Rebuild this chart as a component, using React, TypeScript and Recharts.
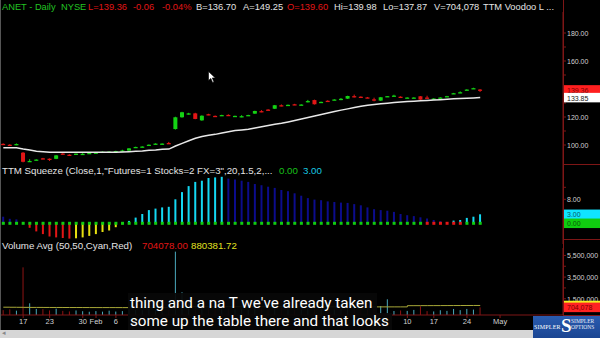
import React from "react";
import { ComposedChart, Bar, Line, XAxis, YAxis } from "recharts";

const W = 600;
const AXIS_W = 37;
const SLOTS = 85; // 73 sessions + empty space to the right

// ANET daily, Jan 11 - Apr 26 2017
const open = [100.8, 100.2, 100.2, 94.5, 88.2, 89.2, 90.5, 90.2, 90.1, 93.9, 93.1, 93.3, 93.5, 94.0, 94.3, 94.8, 95.0, 95.3, 95.9, 96.0, 98.2, 98.6, 99.9, 100.7, 100.8, 101.4, 111.4, 119.8, 122.2, 122.6, 117.6, 122.0, 120.8, 121.0, 121.5, 120.6, 120.4, 121.0, 122.4, 124.2, 125.3, 125.9, 128.4, 128.4, 129.1, 128.6, 131.0, 132.1, 130.5, 131.6, 132.2, 132.8, 133.1, 134.9, 134.5, 134.0, 132.6, 131.7, 134.6, 135.1, 134.5, 133.7, 133.7, 134.8, 133.9, 133.0, 133.7, 134.7, 136.7, 137.4, 139.3, 140.4, 139.6];
const high = [101.2, 100.6, 101.1, 95.0, 89.9, 89.8, 90.8, 90.4, 92.8, 94.2, 93.4, 93.9, 94.2, 94.6, 94.9, 95.4, 95.5, 95.9, 96.6, 97.8, 98.8, 99.1, 100.4, 101.2, 101.2, 102.2, 120.2, 123.7, 123.0, 123.0, 121.2, 122.3, 121.1, 121.6, 121.9, 121.0, 121.3, 121.6, 124.5, 124.9, 125.6, 128.6, 129.0, 128.9, 129.4, 129.1, 132.2, 132.4, 131.0, 131.9, 132.7, 133.6, 135.2, 136.0, 134.8, 134.3, 133.8, 134.3, 135.0, 135.9, 134.8, 134.1, 134.1, 135.0, 135.2, 133.4, 134.1, 135.1, 137.2, 138.3, 139.8, 140.9, 139.98];
const low = [100.2, 99.5, 99.9, 87.6, 88.0, 89.0, 89.8, 88.6, 89.9, 93.2, 92.2, 93.1, 93.0, 93.6, 94.0, 94.6, 94.7, 95.1, 95.2, 95.8, 97.9, 98.3, 99.6, 100.5, 100.5, 100.7, 111.0, 119.5, 121.7, 118.4, 117.3, 121.3, 120.1, 120.8, 120.7, 120.4, 119.8, 120.8, 122.2, 123.4, 124.6, 125.7, 127.6, 128.2, 128.5, 128.4, 130.4, 128.9, 130.3, 131.0, 132.0, 132.0, 132.9, 134.0, 133.9, 133.5, 131.2, 131.5, 134.4, 134.6, 134.0, 133.5, 133.5, 132.2, 133.0, 132.8, 133.5, 134.5, 136.5, 137.0, 139.1, 140.2, 137.87];
const close = [100.4, 99.8, 100.7, 88.0, 88.6, 89.6, 90.0, 89.9, 92.6, 93.4, 92.8, 93.8, 93.7, 94.3, 94.6, 95.2, 95.3, 95.7, 96.1, 97.6, 98.6, 98.9, 100.2, 101.0, 101.0, 101.0, 119.8, 123.4, 122.6, 118.6, 120.9, 121.5, 120.3, 121.4, 121.0, 120.8, 120.6, 121.4, 124.3, 123.9, 124.8, 128.4, 127.9, 128.7, 128.7, 128.9, 131.4, 129.1, 130.8, 131.3, 132.5, 133.0, 135.0, 134.7, 134.1, 133.7, 132.3, 134.1, 134.9, 135.3, 134.2, 133.9, 133.9, 132.4, 133.7, 133.2, 133.9, 134.9, 137.0, 137.7, 139.6, 140.6, 139.36];
const trend = [98.1, 98.1, 98.1, 97.1, 96.4, 95.5, 95.2, 94.8, 94.8, 94.8, 94.8, 94.8, 94.8, 94.8, 94.8, 94.8, 94.8, 94.8, 95.0, 95.2, 95.5, 95.7, 96.2, 96.4, 96.9, 97.1, 99.3, 101.2, 103.0, 104.8, 106.0, 106.9, 107.6, 108.6, 109.5, 110.3, 110.8, 111.2, 112.2, 113.1, 114.0, 114.8, 115.5, 116.5, 117.5, 118.5, 119.6, 120.7, 121.8, 122.8, 123.9, 124.9, 125.8, 126.8, 127.6, 128.4, 128.9, 129.4, 129.9, 130.3, 130.7, 131.0, 131.3, 131.6, 131.8, 132.1, 132.4, 132.7, 133.0, 133.2, 133.4, 133.6, 133.85];
const squeeze = [2.2, 1.5, 1.3, 0.2, -1.5, -2.7, -3.6, -4.4, -4.7, -4.9, -5.1, -5.0, -4.7, -4.2, -3.6, -2.9, -2.4, -1.3, -0.3, 0.8, 1.9, 3.1, 4.4, 4.9, 5.3, 5.5, 8.0, 10.4, 12.4, 13.8, 14.2, 15.1, 15.3, 15.5, 14.9, 14.6, 14.2, 13.8, 13.1, 12.7, 12.2, 11.8, 11.1, 10.7, 10.0, 9.2, 8.4, 7.9, 7.7, 7.3, 7.1, 6.9, 6.8, 6.4, 6.0, 5.3, 4.7, 4.4, 4.2, 3.8, 3.1, 2.7, 2.4, 2.0, 1.6, 1.1, 0.7, 0.3, 0.9, 1.1, 1.8, 2.2, 3.0];
const squeezeOnBars = [64, 65, 66, 67, 68, 69];
const volume = [450000, 520000, 400000, 4400000, 1080000, 560000, 540000, 420000, 580000, 380000, 330000, 420000, 350000, 300000, 360000, 310000, 400000, 320000, 360000, 520000, 480000, 450000, 560000, 430000, 400000, 610000, 5850000, 2100000, 1150000, 1300000, 980000, 760000, 640000, 580000, 600000, 520000, 540000, 480000, 820000, 600000, 560000, 950000, 700000, 520000, 480000, 500000, 780000, 900000, 560000, 520000, 500000, 560000, 780000, 620000, 540000, 500000, 580000, 830000, 1450000, 370000, 420000, 380000, 470000, 800000, 360000, 330000, 440000, 380000, 560000, 450000, 560000, 500000, 704078];
const volumeAvg = [720000, 715000, 710000, 705000, 700000, 700000, 698000, 695000, 695000, 692000, 690000, 690000, 688000, 686000, 685000, 684000, 684000, 683000, 682000, 682000, 681000, 680000, 680000, 679000, 678000, 678000, 770000, 772000, 772000, 771000, 770000, 770000, 769000, 768000, 768000, 767000, 766000, 766000, 765000, 764000, 764000, 763000, 762000, 762000, 761000, 760000, 760000, 758000, 757000, 756000, 755000, 754000, 753000, 752000, 751000, 750000, 750000, 750000, 750000, 750000, 750000, 860000, 862000, 865000, 866000, 868000, 870000, 872000, 874000, 876000, 878000, 879000, 880381.72];
// date labels that are not hidden behind the caption box / logo
const tickIdx = [3, 7, 12, 14, 17, 61, 65, 70, 75];
const tickText = ["17", "23", "30", "Feb", "6", "10", "17", "24", "May"];

const GREEN = "#14d214";
const RED = "#e21616";
const CYAN = "#14d8f2";
const NAVY = "#0c0c8c";
const YELLOW = "#e6e010";
const AXIS_RED = "#7e1616";
const LABEL = "#d2d2d2";

const rows = Array.from({ length: SLOTS }, (_, i) => {
  if (i >= open.length) return { i };
  const prev = i > 0 ? squeeze[i - 1] : squeeze[i];
  const v = squeeze[i];
  const sqColor = v >= 0 ? (v > prev ? CYAN : NAVY) : v < prev ? RED : YELLOW;
  return {
    i,
    o: open[i], h: high[i], l: low[i], c: close[i],
    range: [low[i], high[i]],
    ma: trend[i],
    sq: v,
    sqColor,
    dot: 0,
    dotColor: squeezeOnBars.includes(i) ? RED : "#10cc10",
    vol: volume[i],
    volUp: close[i] >= open[i],
    volAvg: volumeAvg[i],
  };
});

function Candle(p: any) {
  const { x, y, width, height, payload } = p;
  if (payload.o == null) return null;
  const top = Math.min(y, y + height);
  const bot = Math.max(y, y + height);
  const py = (v: number) => top + ((payload.h - v) / (payload.h - payload.l)) * (bot - top);
  const col = payload.c >= payload.o ? GREEN : RED;
  const cx = x + width / 2;
  const b1 = py(Math.max(payload.o, payload.c));
  const b2 = py(Math.min(payload.o, payload.c));
  return (
    <g>
      <line x1={cx} x2={cx} y1={top} y2={bot} stroke={col} strokeWidth={1} />
      <rect x={cx - 2} y={b1} width={4} height={Math.max(1.3, b2 - b1)} fill={col} />
    </g>
  );
}

function SqBar(p: any) {
  const { x, y, width, height, payload } = p;
  if (payload.sq == null) return null;
  const top = Math.min(y, y + height);
  return <rect x={x + width / 2 - 1} y={top} width={2} height={Math.max(0.6, Math.abs(height))} fill={payload.sqColor} />;
}

function VolBar(p: any) {
  const { x, y, width, height, payload } = p;
  if (payload.vol == null) return null;
  const top = Math.min(y, y + height);
  return <rect x={x + width / 2 - 0.5} y={top} width={1} height={Math.abs(height)} fill={payload.volUp ? "#4aa9bc" : "#8e1414"} />;
}

function SqDot(p: any) {
  const { cx, cy, payload, index } = p;
  if (cx == null || cy == null || payload.dot == null) return <g key={index} />;
  return <rect key={index} x={cx - 1.5} y={cy - 1.5} width={3} height={3} fill={payload.dotColor} />;
}

type Box = { bg: string; fg: string; text: string; h?: number };

const axisTick = (fmt: (v: number) => string, boxes: Record<string, Box>, minor: number[]) => (p: any) => {
  const { x, y, payload } = p;
  const v = payload.value;
  const box = boxes[String(v)];
  if (box) {
    const h = box.h ?? 9.5;
    return (
      <g>
        <rect x={x + 1} y={y - h / 2} width={AXIS_W - 1} height={h} fill={box.bg} />
        <text x={x + 4} y={y + 0.5} fill={box.fg} fontSize={7} fontFamily="Liberation Sans, Arial" dominantBaseline="central">{box.text}</text>
      </g>
    );
  }
  return (
    <g>
      <line x1={x} x2={x + 3} y1={y} y2={y} stroke={AXIS_RED} />
      {!minor.includes(v) && (
        <text x={x + 4} y={y + 0.5} fill={LABEL} fontSize={7} fontFamily="Liberation Sans, Arial" dominantBaseline="central">{fmt(v)}</text>
      )}
    </g>
  );
};

const priceTick = axisTick((v) => v.toFixed(2), {
  "139.36": { bg: "#ff1f1f", fg: "#7a0000", text: "139.36" },
  "133.85": { bg: "#ffffff", fg: "#222", text: "133.85" },
}, [110, 130, 150, 170]);
const sqTick = axisTick((v) => v.toFixed(2), {
  "3": { bg: "#10e4ff", fg: "#075a66", text: "3.00" },
  "0": { bg: "#10cc10", fg: "#075a07", text: "0.00" },
}, [12]);
const volTick = axisTick((v) => v.toLocaleString("en-US"), {
  "880381.72": { bg: "#f0f020", fg: "#f0f020", text: "" },
  "704078": { bg: "#ff2222", fg: "#7a0000", text: "704,078" },
}, [2500000, 4500000]);

const txt: React.CSSProperties = { position: "absolute", fontFamily: "Liberation Sans, Arial, sans-serif", lineHeight: "10px", whiteSpace: "pre" };

function Header({ top, size, parts }: { top: number; size: number; parts: [number, string, string][] }) {
  return (
    <>
      {parts.map(([x, s, c], k) => (
        <span key={k} style={{ ...txt, fontSize: size, left: x, top, color: c }}>{s}</span>
      ))}
    </>
  );
}

const caption: React.CSSProperties = { position: "absolute", left: 130, color: "#fff", fontFamily: "Roboto, sans-serif", fontSize: 15.2, lineHeight: "19px", whiteSpace: "pre" };

export default function App() {
  const xAxisHidden = <XAxis dataKey="i" type="category" hide />;
  return (
    <div style={{ position: "fixed", left: 0, top: 0, width: W, height: 338, background: "#000", overflow: "hidden" }}>
      {/* price panel */}
      <div style={{ position: "absolute", left: 0, top: 0 }}>
        <ComposedChart width={W} height={164} data={rows} margin={{ top: 12, right: 0, bottom: 0, left: 0 }}>
          {xAxisHidden}
          <YAxis orientation="right" width={AXIS_W} domain={[86.43, 195]} allowDataOverflow
            ticks={[100, 110, 120, 130, 150, 160, 170, 180, 139.36, 133.85]} interval={0}
            axisLine={{ stroke: AXIS_RED }} tickLine={false} tickSize={0} tickMargin={0} tick={priceTick} />
          <Bar dataKey="range" shape={Candle} isAnimationActive={false} />
          <Line dataKey="ma" stroke="#e8e8e8" strokeWidth={1.5} dot={false} isAnimationActive={false} />
        </ComposedChart>
      </div>
      {/* squeeze panel */}
      <div style={{ position: "absolute", left: 0, top: 164 }}>
        <ComposedChart width={W} height={80} data={rows} margin={{ top: 0, right: 0, bottom: 0, left: 0 }}>
          {xAxisHidden}
          <YAxis orientation="right" width={AXIS_W} domain={[-6.9, 19.77]} allowDataOverflow
            ticks={[12, 8, 3, 0]} interval={0}
            axisLine={{ stroke: AXIS_RED }} tickLine={false} tickSize={0} tickMargin={0} tick={sqTick} />
          <Bar dataKey="sq" shape={SqBar} isAnimationActive={false} />
          <Line dataKey="dot" stroke="none" dot={SqDot} activeDot={false} isAnimationActive={false} />
        </ComposedChart>
      </div>
      {/* volume panel */}
      <div style={{ position: "absolute", left: 0, top: 244 }}>
        <ComposedChart width={W} height={86} data={rows} margin={{ top: 4, right: 0, bottom: 0, left: 0 }}>
          <XAxis dataKey="i" type="category" height={15} ticks={tickIdx} interval={0}
            tickFormatter={(v) => tickText[tickIdx.indexOf(v)] ?? ""}
            axisLine={{ stroke: AXIS_RED }} tickLine={{ stroke: AXIS_RED }} tickSize={3} tickMargin={1}
            tick={{ fill: LABEL, fontSize: 7.5, fontFamily: "Liberation Sans, Arial" }} />
          <YAxis orientation="right" width={AXIS_W} domain={[0, 6186000]} allowDataOverflow
            ticks={[1500000, 2500000, 3500000, 4500000, 5500000, 880381.72, 704078]} interval={0}
            axisLine={{ stroke: AXIS_RED }} tickLine={false} tickSize={0} tickMargin={0} tick={volTick} />
          <Bar dataKey="vol" shape={VolBar} isAnimationActive={false} />
          <Line dataKey="volAvg" type="stepAfter" stroke="#a8a838" strokeWidth={1} dot={false} isAnimationActive={false} />
        </ComposedChart>
      </div>

      {/* frame lines */}
      <div style={{ position: "absolute", left: 563, top: 0, width: 1, height: 330, background: AXIS_RED }} />
      <div style={{ position: "absolute", left: 563, top: 164, width: 37, height: 1, background: AXIS_RED }} />
      <div style={{ position: "absolute", left: 563, top: 239, width: 37, height: 1, background: AXIS_RED }} />
      <div style={{ position: "absolute", left: 563, top: 315, width: 37, height: 1, background: AXIS_RED }} />
      <div style={{ position: "absolute", left: 0, top: 0, width: 1, height: 330, background: "#555" }} />

      <Header top={2} size={9.3} parts={[
        [2, "ANET - Daily", "#22c322"], [61, "NYSE", "#22c322"],
        [88, "L=139.36", RED], [133, "-0.06", RED], [162, "-0.04%", RED],
        [196, "B=136.70", "#e4e4e4"], [243, "A=149.25", "#e4e4e4"],
        [287, "O=139.60", RED], [334, "Hi=139.98", "#e4e4e4"], [383, "Lo=137.87", "#e4e4e4"],
        [434, "V=704,078", "#e4e4e4"], [483, "TTM Voodoo L ...", "#e4e4e4"],
      ]} />
      <Header top={166} size={9.7} parts={[
        [2, "TTM Squeeze (Close,1,\"Futures=1 Stocks=2 FX=3\",20,1.5,2,...", "#e4e4e4"],
        [279, "0.00", "#18c018"], [303, "3.00", "#18c8e0"],
      ]} />
      <Header top={241} size={9.7} parts={[
        [2, "Volume Avg (50,50,Cyan,Red)", "#e4e4e4"],
        [142, "704078.00", RED], [191, "880381.72", "#e0e020"],
      ]} />

      {/* cursor */}
      <svg style={{ position: "absolute", left: 208, top: 71 }} width={9} height={13}>
        <polygon points="0.5,0.5 0.5,9.5 2.8,7.4 4.6,11.5 6,10.9 4.3,6.9 7.3,6.9" fill="#fff" stroke="#000" strokeWidth={0.6} />
      </svg>

      {/* captions */}
      <div style={{ position: "absolute", left: 128, top: 293, width: 249, height: 20, background: "rgba(8,8,8,0.93)" }} />
      <div style={{ position: "absolute", left: 128, top: 313, width: 264, height: 17, background: "rgba(8,8,8,0.93)" }} />
      <span style={{ ...caption, top: 294 }}>thing and a na T we've already taken</span>
      <span style={{ ...caption, top: 312 }}>some up the table there and that looks</span>

      {/* scrollbar */}
      <div style={{ position: "absolute", left: 0, top: 330, width: W, height: 8, background: "#d6d6d6" }} />
      <span style={{ position: "absolute", left: 2, top: 329, fontSize: 7, color: "#888", fontFamily: "DejaVu Sans" }}>◂</span>

      {/* logo */}
      <div style={{ position: "absolute", left: 533, top: 316, width: 67, height: 22, background: "linear-gradient(#2a5cb0, #1a4592)" }}>
        <span style={{ position: "absolute", left: 1, top: 8, fontSize: 6, color: "#fff", fontFamily: "Liberation Serif", letterSpacing: 0.2 }}>SIMPLER</span>
        <span style={{ position: "absolute", left: 28, top: 0, fontSize: 19, color: "#fff", fontFamily: "Liberation Serif", fontWeight: 700, lineHeight: "20px", textShadow: "0 0 1px #0a2a6a" }}>S</span>
        <span style={{ position: "absolute", left: 38, top: 2, fontSize: 5.5, color: "#e8ecf6", fontFamily: "Liberation Serif", lineHeight: "6px" }}>SIMPLER<br />OPTIONS</span>
      </div>
    </div>
  );
}
